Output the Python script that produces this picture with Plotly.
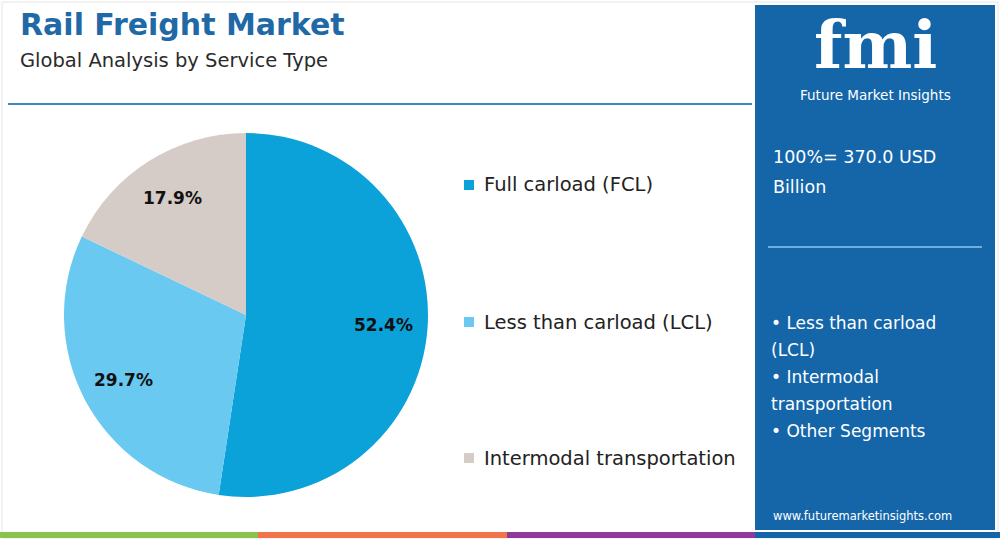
import math
import plotly.graph_objects as go

# ---- data ----
categories = ["Full carload (FCL)", "Less than carload (LCL)", "Intermodal transportation"]
shares = [52.4, 29.7, 17.9]
colors = ["#0BA2DA", "#69C9F0", "#D6CCC7"]
title = "Rail Freight Market"
subtitle = "Global Analysis by Service Type"
total_lines = ["100%= 370.0 USD", "Billion"]
side_bullets = ["• Less than carload", "(LCL)", "• Intermodal", "transportation", "• Other Segments"]
website = "www.futuremarketinsights.com"

FONT = "'DejaVu Sans', sans-serif"
W, H = 1000, 540

# pie geometry (pixels)
CX, CY, R = 246, 315, 182

fig = go.Figure()
fig.add_trace(go.Pie(
    labels=categories, values=shares, sort=False, direction="clockwise", rotation=0,
    marker=dict(colors=colors, line=dict(width=0)),
    textinfo="none",
    domain=dict(x=[(CX - R) / W, (CX + R) / W], y=[(H - CY - R) / H, (H - CY + R) / H]),
    showlegend=False, hoverinfo="label+percent",
))

shapes = []
ann = []

def px(x):
    return x / W

def py(y):
    return 1 - y / H

# slice labels positioned along each slice's mid-angle
total = sum(shares)
cum = 0.0
for v in shares:
    mid = (cum + v / 2) / total * 2 * math.pi
    cum += v
    lx = CX + 0.76 * R * math.sin(mid)
    ly = CY - 0.76 * R * math.cos(mid)
    ann.append(dict(text="<b>%.1f%%</b>" % v, x=px(lx), y=py(ly), xref="paper", yref="paper",
                    xanchor="center", yanchor="middle", showarrow=False,
                    font=dict(family=FONT, size=17, color="#111111")))

# outer frame
shapes.append(dict(type="rect", xref="paper", yref="paper", x0=px(2), x1=px(998), y0=py(538), y1=py(2),
                   line=dict(color="#E6E6E6", width=1), fillcolor="rgba(0,0,0,0)", layer="below"))
# title divider
shapes.append(dict(type="line", xref="paper", yref="paper", x0=px(8), x1=px(752), y0=py(104), y1=py(104),
                   line=dict(color="#3A8AC4", width=2)))
# right panel
shapes.append(dict(type="rect", xref="paper", yref="paper", x0=px(755), x1=px(995), y0=py(530), y1=py(5),
                   line=dict(width=0), fillcolor="#1466A9", layer="below"))
shapes.append(dict(type="line", xref="paper", yref="paper", x0=px(768), x1=px(982), y0=py(247), y1=py(247),
                   line=dict(color="#6FAEDD", width=2)))
# bottom coloured strip
strip = [("#8BC34A", 0, 258), ("#F0734A", 258, 507), ("#8E3A9A", 507, 755), ("#1466A9", 755, 1000)]
for c, a, b in strip:
    shapes.append(dict(type="rect", xref="paper", yref="paper", x0=px(a), x1=px(b), y0=py(538), y1=py(532),
                       line=dict(width=0), fillcolor=c))

# titles
ann.append(dict(text="<b>" + title + "</b>", x=px(18), y=py(25), xref="paper", yref="paper",
                xanchor="left", yanchor="middle", showarrow=False,
                font=dict(family=FONT, size=30, color="#1F69A6")))
ann.append(dict(text=subtitle, x=px(18), y=py(61), xref="paper", yref="paper",
                xanchor="left", yanchor="middle", showarrow=False,
                font=dict(family=FONT, size=19.5, color="#2B2B2B")))

# legend (drawn from data)
legend_y = [185, 322, 458]
for cat, col, ly in zip(categories, colors, legend_y):
    shapes.append(dict(type="rect", xref="paper", yref="paper", x0=px(464), x1=px(474),
                       y0=py(ly + 5), y1=py(ly - 5), line=dict(width=0), fillcolor=col))
    ann.append(dict(text=cat, x=px(482), y=py(ly), xref="paper", yref="paper",
                    xanchor="left", yanchor="middle", showarrow=False,
                    font=dict(family=FONT, size=19.5, color="#222222")))

# logo
ann.append(dict(text="<b>fmi</b>", x=px(875), y=py(45), xref="paper", yref="paper",
                xanchor="center", yanchor="middle", showarrow=False,
                font=dict(family="'DejaVu Serif', serif", size=66, color="white")))
ann.append(dict(text="Future Market Insights", x=px(875), y=py(95), xref="paper", yref="paper",
                xanchor="center", yanchor="middle", showarrow=False,
                font=dict(family=FONT, size=13.5, color="white")))

# right panel text
for i, t in enumerate(total_lines):
    ann.append(dict(text=t, x=px(771), y=py(157 + 30 * i), xref="paper", yref="paper",
                    xanchor="left", yanchor="middle", showarrow=False,
                    font=dict(family=FONT, size=17.5, color="white")))
for i, t in enumerate(side_bullets):
    ann.append(dict(text=t, x=px(769), y=py(323 + 27 * i), xref="paper", yref="paper",
                    xanchor="left", yanchor="middle", showarrow=False,
                    font=dict(family=FONT, size=17, color="white")))
ann.append(dict(text=website, x=px(862), y=py(516), xref="paper", yref="paper",
                xanchor="center", yanchor="middle", showarrow=False,
                font=dict(family=FONT, size=11.5, color="white")))

fig.update_layout(
    width=W, height=H, margin=dict(l=0, r=0, t=0, b=0),
    paper_bgcolor="white", plot_bgcolor="white",
    shapes=shapes, annotations=ann,
)
fig.write_html("out.html")
